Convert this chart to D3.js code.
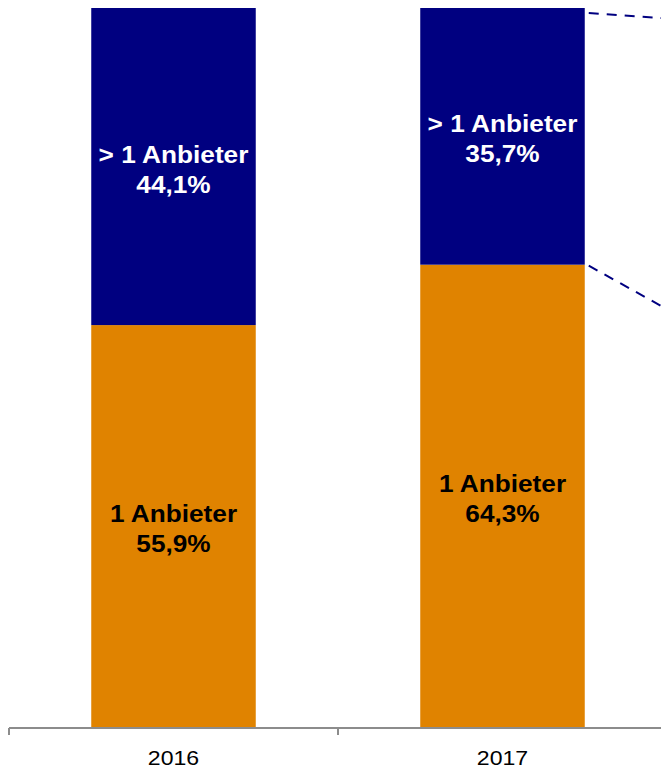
<!DOCTYPE html>
<html>
<head>
<meta charset="utf-8">
<script src="https://cdn.jsdelivr.net/npm/d3@7"></script>
<style>
body { margin:0; background:#fff; }
text { font-family: "Liberation Sans", Arial, sans-serif; }
</style>
</head>
<body>
<div id="chart-area"></div>
<script>
// data
var years = ["2016", "2017"];
var oneProvider = [55.9, 64.3];   // 1 Anbieter
var moreProviders = [44.1, 35.7]; // > 1 Anbieter
var labelOne = "1 Anbieter",
	labelMore = "> 1 Anbieter";

var W = 661, H = 769;
var sx = 1.14; // text in the picture is a bit wide

var svg = d3.select("#chart-area")
	.append("svg")
		.attr("width", W)
		.attr("height", H);

//scales
var x = d3.scaleBand()
	.domain(years)
	.range([9, 9 + 329 * years.length])
	.paddingInner(0.5)
	.paddingOuter(0.25);
var y = d3.scaleLinear().domain([0, 100]).range([727, 8]);

var fmt = function(v){ return d3.format(".1f")(v).replace(".", ",") + "%"; };

var data = years.map(function(yr, i){
	return {year: yr, one: oneProvider[i], more: moreProviders[i]};
});

//bars
var bars = svg.selectAll(".bar").data(data).enter().append("g")
	.attr("class", "bar");

bars.append("rect")
	.attr("x", d => x(d.year))
	.attr("width", x.bandwidth())
	.attr("y", d => y(d.one))
	.attr("height", d => y(0) - y(d.one))
	.attr("fill", "#E08300");

bars.append("rect")
	.attr("x", d => x(d.year))
	.attr("width", x.bandwidth())
	.attr("y", d => y(d.one + d.more))
	.attr("height", d => y(d.one) - y(d.one + d.more))
	.attr("fill", "#000080");

//labels in segments
function segLabel(sel, top, bottom, l1, l2, color) {
	sel.each(function(d){
		var cx = x(d.year) + x.bandwidth() / 2,
			cy = (y(top(d)) + y(bottom(d))) / 2;
		var g = d3.select(this).append("g")
			.attr("transform", "translate(" + cx + "," + cy + ") scale(" + sx + ",1)");
		g.append("text")
			.attr("y", -4)
			.attr("text-anchor", "middle")
			.attr("font-size", "23px")
			.attr("font-weight", "bold")
			.attr("fill", color)
			.text(l1);
		g.append("text")
			.attr("y", 26)
			.attr("text-anchor", "middle")
			.attr("font-size", "23px")
			.attr("font-weight", "bold")
			.attr("fill", color)
			.text(l2(d));
	});
}
segLabel(bars, d => d.one + d.more, d => d.one, labelMore, d => fmt(d.more), "#fff");
segLabel(bars, d => d.one, d => 0, labelOne, d => fmt(d.one), "#000");

//axis
var axisY = 728;
var r = x.range();
var axis = svg.append("g").attr("class", "x axis");
axis.append("line")
	.attr("x1", r[0]).attr("x2", r[1])
	.attr("y1", axisY).attr("y2", axisY)
	.attr("stroke", "#8c8c8c").attr("stroke-width", 2);
axis.selectAll(".tick").data(d3.range(years.length + 1)).enter().append("line")
	.attr("class", "tick")
	.attr("x1", i => r[0] + i * x.step())
	.attr("x2", i => r[0] + i * x.step())
	.attr("y1", axisY).attr("y2", axisY + 7)
	.attr("stroke", "#8c8c8c").attr("stroke-width", 2);
axis.selectAll(".lbl").data(years).enter().append("g")
	.attr("transform", d => "translate(" + (x(d) + x.bandwidth() / 2) + "," + 765 + ") scale(1.1,1)")
	.append("text")
		.attr("text-anchor", "middle")
		.attr("font-size", "21px")
		.attr("fill", "#000")
		.text(d => d);

//dashed connector lines from the 2017 bar (to a detail off the page)
var last = data[data.length - 1];
var x0 = x(last.year) + x.bandwidth() + 4;
var conn = [
	{y0: y(last.one + last.more) + 5, slope: 5 / 72},
	{y0: y(last.one) + 1, slope: 40 / 72}
];
svg.selectAll(".conn").data(conn).enter().append("line")
	.attr("class", "conn")
	.attr("x1", x0).attr("y1", d => d.y0)
	.attr("x2", W + 10).attr("y2", d => d.y0 + d.slope * (W + 10 - x0))
	.attr("stroke", "#000080")
	.attr("stroke-width", 2)
	.attr("stroke-dasharray", "10,8");
</script>
</body>
</html>
